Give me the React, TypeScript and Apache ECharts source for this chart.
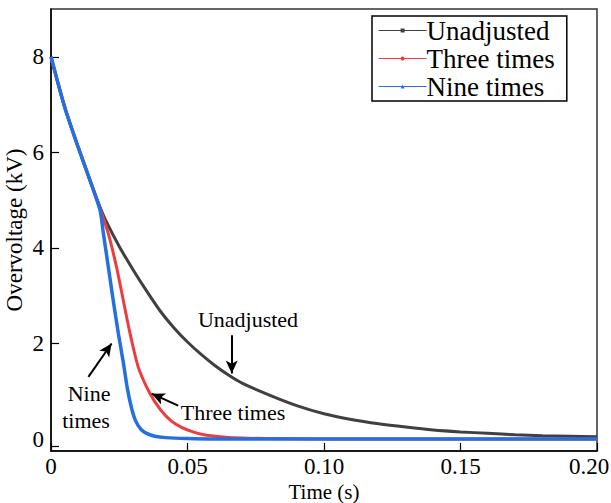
import React, { useEffect, useRef } from "react";
import * as echarts from "echarts";

const seriesNames = ["Unadjusted", "Three times", "Nine times"];

const unadjustedTime = [0, 0.005, 0.01, 0.015, 0.018, 0.02, 0.025, 0.03, 0.035, 0.04, 0.045, 0.05, 0.055, 0.06, 0.065, 0.07, 0.08, 0.09, 0.1, 0.11, 0.12, 0.13, 0.14, 0.15, 0.16, 0.17, 0.18, 0.19, 0.2];
const unadjustedVolt = [8.0, 6.95, 6.1, 5.3, 4.85, 4.58, 4.03, 3.55, 3.1, 2.68, 2.33, 2.03, 1.77, 1.54, 1.34, 1.17, 0.92, 0.7, 0.53, 0.41, 0.32, 0.25, 0.19, 0.15, 0.12, 0.09, 0.07, 0.06, 0.05];

const threeTime = [0, 0.005, 0.01, 0.015, 0.018, 0.021, 0.024, 0.0265, 0.029, 0.032, 0.036, 0.04, 0.044, 0.048, 0.052, 0.056, 0.062, 0.07, 0.08, 0.1, 0.15, 0.2];
const threeVolt = [8.0, 6.95, 6.1, 5.3, 4.82, 4.3, 3.6, 2.9, 2.2, 1.5, 0.98, 0.62, 0.38, 0.24, 0.15, 0.09, 0.05, 0.02, 0.01, 0.0, 0.0, 0.0];

const nineTime = [0, 0.005, 0.01, 0.015, 0.018, 0.0192, 0.021, 0.0228, 0.0247, 0.0265, 0.028, 0.0295, 0.031, 0.033, 0.035, 0.038, 0.042, 0.05, 0.06, 0.1, 0.15, 0.2];
const nineVolt = [8.0, 6.95, 6.1, 5.3, 4.78, 4.3, 3.6, 2.9, 2.2, 1.6, 1.05, 0.65, 0.38, 0.2, 0.12, 0.06, 0.03, 0.01, 0.0, 0.0, 0.0, 0.0];

const yLabels = [0, 2, 4, 6, 8];
const yTickMarks = [-0.15, 2, 4, 6, 8];

const colors = ["#404040", "#EE3B3B", "#2470E0"];
const lineWidths = [3, 3, 3.5];
const symbols = ["rect", "circle", "triangle"];

const arrows = [
  { from: [0.0662, 2.17], to: [0.0662, 1.37] },
  { from: [0.0466, 0.7], to: [0.0369, 0.95] },
  { from: [0.0137, 1.3], to: [0.0222, 2.0] },
];

const FONT = "Liberation Serif, serif";

function pairs(t: number[], v: number[]) {
  return t.map((x, i) => [x, v[i]]);
}

export default function App() {
  const ref = useRef<HTMLDivElement>(null);
  useEffect(() => {
    if (!ref.current) return;
    const chart = echarts.init(ref.current, null, { renderer: "svg" });
    const datasets = [
      pairs(unadjustedTime, unadjustedVolt),
      pairs(threeTime, threeVolt),
      pairs(nineTime, nineVolt),
    ];
    const series: any[] = datasets.map((d, i) => ({
      name: seriesNames[i],
      type: "line",
      data: d,
      smooth: 0.25,
      symbol: symbols[i],
      symbolSize: 4,
      showSymbol: false,
      lineStyle: { color: colors[i], width: lineWidths[i] },
      itemStyle: { color: colors[i] },
      z: 2 + i,
    }));
    series.push({
      type: "line",
      data: [],
      silent: true,
      markLine: {
        silent: true,
        symbol: ["none", "arrow"],
        symbolSize: [9, 13],
        label: { show: false },
        lineStyle: { color: "#000", width: 2, type: "solid" },
        data: arrows.map((a) => [{ coord: a.from }, { coord: a.to }]),
      },
    });
    chart.setOption({
      animation: false,
      backgroundColor: "#fff",
      textStyle: { fontFamily: FONT },
      grid: {
        left: 51,
        right: 14,
        top: 9,
        bottom: 52,
        outerBoundsMode: "none",
        containLabel: false,
        show: true,
        borderColor: "#333",
        borderWidth: 1.5,
      },
      legend: {
        data: seriesNames,
        orient: "vertical",
        left: 372,
        top: 16,
        padding: [1, 12, 1, 6],
        borderColor: "#000",
        borderWidth: 1.5,
        itemWidth: 48,
        itemHeight: 5,
        itemGap: 1,
        lineStyle: { width: 1.2 },
        textStyle: { fontSize: 27, color: "#000", fontFamily: FONT, lineHeight: 27, padding: [0, 0, 0, -5] },
      },
      xAxis: {
        type: "value",
        min: 0,
        max: 0.2,
        interval: 0.05,
        name: "Time (s)",
        nameLocation: "middle",
        nameMoveOverlap: false,
        nameGap: 30,
        nameTextStyle: { fontSize: 21, color: "#000", fontFamily: FONT },
        axisLine: { onZero: false, lineStyle: { color: "#000", width: 1.5 } },
        axisTick: { inside: true, length: 8, lineStyle: { color: "#000", width: 1.2 } },
        axisLabel: {
          fontSize: 23,
          color: "#000",
          fontFamily: FONT,
          margin: 4,
          formatter: (v: number) => (v === 0 ? "0" : v >= 0.2 ? "{last|" + v.toFixed(2) + "}" : v.toFixed(2)),
          rich: { last: { fontSize: 23, fontFamily: FONT, color: "#000", padding: [0, 16, 0, 0] } },
        },
        splitLine: { show: false },
      },
      yAxis: {
        type: "value",
        min: -0.25,
        max: 9,
        name: "Overvoltage (kV)",
        nameLocation: "middle",
        nameMoveOverlap: false,
        nameGap: 25,
        nameTextStyle: { fontSize: 23, color: "#000", fontFamily: FONT },
        axisLine: { onZero: false, lineStyle: { color: "#000", width: 1.5 } },
        axisTick: { inside: true, length: 8, customValues: yTickMarks, lineStyle: { color: "#000", width: 1.2 } },
        axisLabel: { fontSize: 23, color: "#000", fontFamily: FONT, margin: 7, customValues: yLabels },
        splitLine: { show: false },
      },
      graphic: [
        { type: "text", x: 248, y: 319, style: { text: "Unadjusted", font: `22px ${FONT}`, fill: "#000", align: "center", verticalAlign: "middle" } },
        { type: "text", x: 233, y: 412, style: { text: "Three times", font: `22px ${FONT}`, fill: "#000", align: "center", verticalAlign: "middle" } },
        { type: "text", x: 89, y: 393, style: { text: "Nine", font: `22px ${FONT}`, fill: "#000", align: "center", verticalAlign: "middle" } },
        { type: "text", x: 86, y: 420, style: { text: "times", font: `22px ${FONT}`, fill: "#000", align: "center", verticalAlign: "middle" } },
      ],
      series,
    });
    return () => chart.dispose();
  }, []);
  return <div ref={ref} style={{ width: 611, height: 503, position: "absolute", left: 0, top: 0 }} />;
}
